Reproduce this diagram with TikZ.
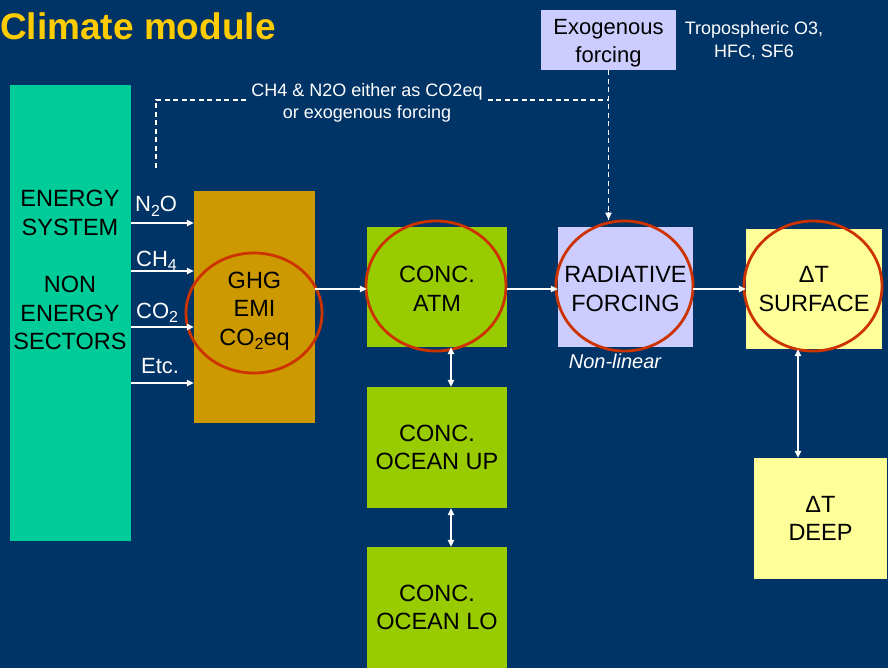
\documentclass[tikz,border=0pt]{standalone}
\usepackage{fontspec}
\setmainfont{Liberation Sans}
\usetikzlibrary{arrows.meta,shapes.geometric}
\definecolor{bg}{HTML}{003366}
\definecolor{teal}{HTML}{00CC99}
\definecolor{ochre}{HTML}{CC9900}
\definecolor{lime}{HTML}{99CC00}
\definecolor{lav}{HTML}{CCCCFF}
\definecolor{paleyel}{HTML}{FFFF99}
\definecolor{ringred}{HTML}{CC3300}
\definecolor{titleyel}{HTML}{FFCC00}
\newcommand\lowtxt[1]{\raisebox{-4.5pt}{\fontsize{16pt}{16pt}\selectfont #1}}
\begin{document}
\begin{tikzpicture}[x=1pt,y=-1pt,
  boxnode/.style={draw=none, inner sep=0pt, align=center, text=black,
    font=\fontsize{23.5pt}{28.5pt}\selectfont},
  ring/.style={ellipse, draw=ringred, line width=2.8pt, inner sep=0pt},
  wtext/.style={text=white, inner sep=0pt},
  arr/.style={draw=white, line width=1.3pt, -{Triangle[length=7pt,width=6.5pt]}},
  darr/.style={draw=white, line width=1.3pt, {Triangle[length=7pt,width=6.5pt]}-{Triangle[length=7pt,width=6.5pt]}},
  dsh/.style={draw=white, line width=1.2pt, dash pattern=on 5pt off 3.5pt}]
\fill[bg] (0,0) rectangle (888,668);
\useasboundingbox (0,0) rectangle (888,668);

% title
\node[anchor=base west, inner sep=0pt, text=titleyel, font=\bfseries\fontsize{37pt}{40pt}\selectfont] (title) at (0,40) {Climate module};

% boxes
\node[boxnode, fill=teal, minimum width=121pt, minimum height=456pt] (energy) at (70.5,313) {};
\node[boxnode] (energytxt) at (70,270) {ENERGY\\SYSTEM\\[29pt]NON\\ENERGY\\SECTORS};
\node[boxnode, fill=ochre, minimum width=121pt, minimum height=232pt] (ghg) at (254.5,307) {};
\node[boxnode] (ghgtxt) at (254.5,311) {GHG\\EMI\\CO\lowtxt{2}eq};
\node[boxnode, fill=lime, minimum width=140pt, minimum height=120pt] (atm) at (437,287) {};
\node[boxnode] (atmtxt) at (437,289) {CONC.\\ATM};
\node[boxnode, fill=lav, minimum width=135pt, minimum height=120pt] (rf) at (625.5,287) {};
\node[boxnode] (rftxt) at (625.5,289) {RADIATIVE\\FORCING};
\node[boxnode, fill=paleyel, minimum width=136pt, minimum height=120pt] (surf) at (814,289) {ΔT\\SURFACE};
\node[boxnode, fill=paleyel, minimum width=133pt, minimum height=121pt] (deep) at (820.5,518.5) {ΔT\\DEEP};
\node[boxnode, fill=lime, minimum width=140pt, minimum height=121pt] (up) at (437,447.5) {CONC.\\OCEAN UP};
\node[boxnode, fill=lime, minimum width=140pt, minimum height=121pt] (lo) at (437,607.5) {CONC.\\OCEAN LO};
\node[boxnode, fill=lav, minimum width=135pt, minimum height=60pt] (exo) at (608.5,40) {};
\node[boxnode, font=\fontsize{22pt}{28pt}\selectfont] (exotxt) at (608.5,43) {Exogenous\\forcing};

% rings
\node[ring, minimum width=136pt, minimum height=120pt] (ghgring) at (254,313) {};
\node[ring, minimum width=140pt, minimum height=130pt] (atmring) at (436,286) {};
\node[ring, minimum width=137pt, minimum height=130pt] (rfring) at (624.5,286) {};
\node[ring, minimum width=138pt, minimum height=130pt] (surfring) at (813,286) {};

% gas labels
\node[wtext, anchor=base west, font=\fontsize{22pt}{26pt}\selectfont] (n2o) at (135,212) {N\lowtxt{2}O};
\node[wtext, anchor=base west, font=\fontsize{22pt}{26pt}\selectfont] (ch4) at (136,266) {CH\lowtxt{4}};
\node[wtext, anchor=base west, font=\fontsize{22pt}{26pt}\selectfont] (co2) at (136,318) {CO\lowtxt{2}};
\node[wtext, anchor=base west, font=\fontsize{22pt}{26pt}\selectfont] (etc) at (141,373) {Etc.};

% other texts
\node[wtext, align=center, font=\fontsize{18pt}{23pt}\selectfont] (trop) at (754,41) {Tropospheric O3,\\HFC, SF6};
\node[wtext, font=\itshape\fontsize{20pt}{24pt}\selectfont] (nonlin) at (615,361) {Non-linear};

% arrows from energy box
\foreach \yy in {223,271,327,383}
  \draw[arr] (energy.east |- 0,\yy) -- (ghg.west |- 0,\yy);

\draw[arr] (ghg.east |- 0,289) -- (atm.west |- 0,289);
\draw[arr] (atm.east |- 0,289) -- (rf.west |- 0,289);
\draw[arr] (rf.east |- 0,289) -- (surf.west |- 0,289);

\draw[darr] (atm.south -| 451,0) -- (up.north -| 451,0);
\draw[darr] (up.south -| 451,0) -- (lo.north -| 451,0);
\draw[darr] (surf.south -| 798,0) -- (deep.north -| 798,0);

% dashed feedback
\coordinate (dl) at (156,168);
\coordinate (dc) at (156,100);
\draw[dsh] (dl) -- (dc) -- (exo.south |- dc);
\draw[dsh] (exo.south) -- (exo.south |- rfring.north);
\draw[white, line width=1.2pt, -{Triangle[length=7pt,width=6.5pt]}] ([yshift=8pt]exo.south |- rfring.north) -- (exo.south |- rfring.north);
\node[fill=bg, text=white, inner xsep=2pt, inner ysep=1pt, align=center, font=\fontsize{18pt}{22pt}\selectfont] (dlab) at (367,103) {CH4 \& N2O either as CO2eq\\or exogenous forcing};
\end{tikzpicture}
\end{document}
